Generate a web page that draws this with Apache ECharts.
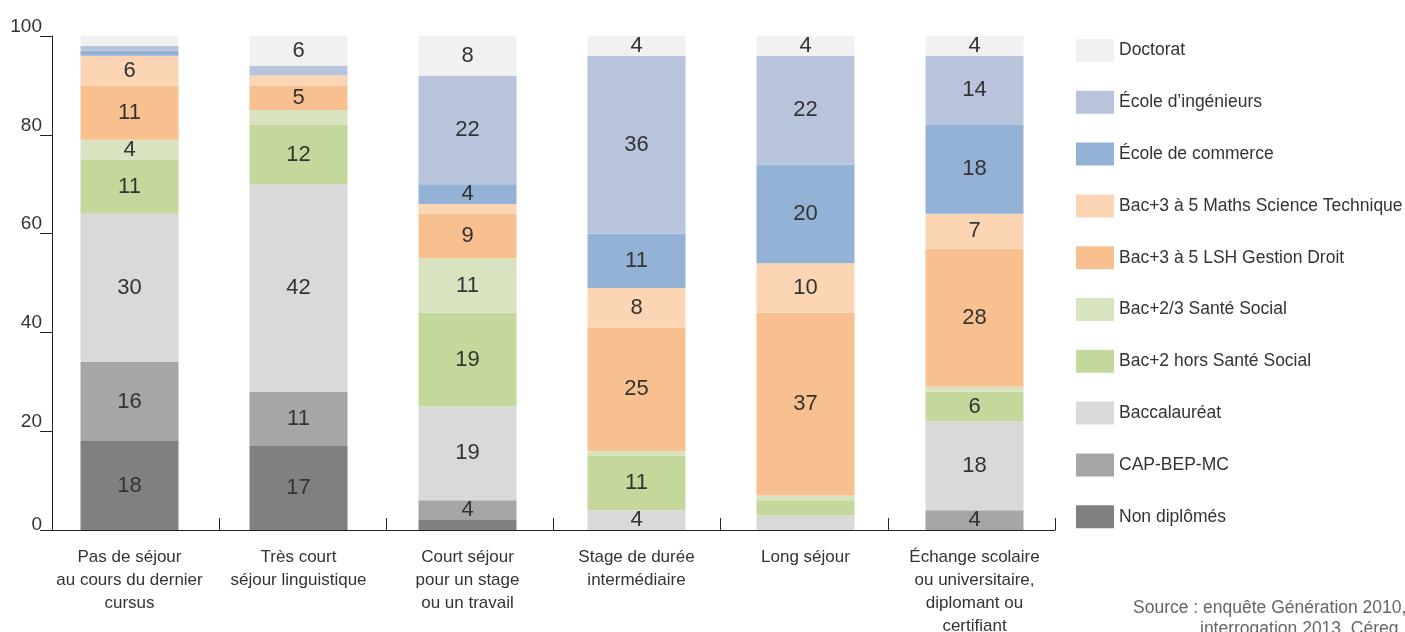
<!DOCTYPE html>
<html>
<head>
<meta charset="utf-8">
<script src="https://cdn.jsdelivr.net/npm/echarts@6/dist/echarts.min.js"></script>
<style>
html,body{margin:0;padding:0;background:#fff;}
#c{width:1405px;height:632px;}
</style>
</head>
<body>
<div id="c"></div>
<script>
const categories = [
  "Pas de séjour\nau cours du dernier\ncursus",
  "Très court\nséjour linguistique",
  "Court séjour\npour un stage\nou un travail",
  "Stage de durée\nintermédiaire",
  "Long séjour",
  "Échange scolaire\nou universitaire,\ndiplomant ou\ncertifiant"
];
const yTicks = [0, 20, 40, 60, 80, 100];

const nonDiplomes   = [18, 17, 2, 0, 0, 0];
const capBepMc      = [16, 11, 4, 0, 0, 4];
const baccalaureat  = [30, 42, 19, 4, 3, 18];
const bac2Hors      = [11, 12, 19, 11, 3, 6];
const bac23Sante    = [4, 3, 11, 1, 1, 1];
const bac35Lsh      = [11, 5, 9, 25, 37, 28];
const bac35Maths    = [6, 2, 2, 8, 10, 7];
const ecoleCommerce = [1, 0, 4, 11, 20, 18];
const ecoleIng      = [1, 2, 22, 36, 22, 14];
const doctorat      = [2, 6, 8, 4, 4, 4];

const seriesDefs = [
  ["Non diplômés", nonDiplomes, "#808080"],
  ["CAP-BEP-MC", capBepMc, "#a6a6a6"],
  ["Baccalauréat", baccalaureat, "#d9d9d9"],
  ["Bac+2 hors Santé Social", bac2Hors, "#c5d89c"],
  ["Bac+2/3 Santé Social", bac23Sante, "#d8e4bf"],
  ["Bac+3 à 5 LSH Gestion Droit", bac35Lsh, "#f9c08f"],
  ["Bac+3 à 5 Maths Science Technique", bac35Maths, "#fcd5b4"],
  ["École de commerce", ecoleCommerce, "#94b1d6"],
  ["École d’ingénieurs", ecoleIng, "#b8c4dc"],
  ["Doctorat", doctorat, "#f1f1f1"]
];

const FONT = "'Liberation Sans', Arial, sans-serif";

const chart = echarts.init(document.getElementById('c'));
chart.setOption({
  animation: false,
  textStyle: { fontFamily: FONT },
  grid: [
    { left: 45, right: 346, top: 36, bottom: 102, containLabel: false, outerBoundsMode: 'none' },
    { left: 52, right: 350, top: 36, bottom: 102, containLabel: false, outerBoundsMode: 'none' }
  ],
  legend: {
    orient: 'vertical',
    left: 1071,
    top: 34,
    itemWidth: 38,
    itemHeight: 23,
    itemGap: 28.8,
    icon: 'rect',
    data: seriesDefs.map(s => s[0]).reverse(),
    textStyle: { fontSize: 17.5, color: '#333', fontFamily: FONT },
    selectedMode: false
  },
  xAxis: [
    {
      type: 'category',
      gridIndex: 0,
      data: categories,
      axisLine: { show: false },
      axisTick: { show: false },
      axisLabel: { color: '#333', fontSize: 17, lineHeight: 23, margin: 16, interval: 0, fontFamily: FONT }
    },
    {
      type: 'category',
      gridIndex: 1,
      data: categories,
      axisLine: { lineStyle: { color: '#222', width: 1 } },
      axisTick: { show: true, inside: true, length: 12, lineStyle: { color: '#222' } },
      axisLabel: { show: false }
    }
  ],
  yAxis: [
    {
      type: 'value',
      gridIndex: 0,
      min: 0, max: 100, interval: 20,
      show: false
    },
    {
      type: 'value',
      gridIndex: 1,
      min: 0, max: 100, interval: 20,
      splitLine: { show: false },
      axisLine: { show: true, lineStyle: { color: '#222', width: 1 } },
      axisTick: { show: true, length: 12, lineStyle: { color: '#222' } },
      axisLabel: {
        color: '#333', fontSize: 19, margin: 10, verticalAlign: 'bottom', fontFamily: FONT,
        formatter: v => yTicks.includes(v) ? (v === 0 ? '{z|0}' : String(v)) : '',
        rich: { z: { fontSize: 19, lineHeight: 10, color: '#333', fontFamily: FONT } }
      }
    }
  ],
  series: seriesDefs.map(([name, data, color]) => ({
    name: name,
    type: 'bar',
    stack: 'total',
    xAxisIndex: 0,
    yAxisIndex: 0,
    barWidth: 98,
    data: data,
    itemStyle: { color: color },
    label: {
      show: true,
      position: 'inside',
      color: '#333',
      fontSize: 22,
      fontFamily: FONT,
      formatter: p => (p.value >= 4 ? String(p.value) : '')
    }
  })),
  graphic: [
    { type: 'text', left: 1133, top: 599, style: { text: 'Source : enquête Génération 2010,', fill: '#666', font: "17.5px 'Liberation Sans', Arial, sans-serif" } },
    { type: 'text', left: 1200, top: 620, style: { text: 'interrogation 2013, Céreq', fill: '#666', font: "17.5px 'Liberation Sans', Arial, sans-serif" } }
  ]
});
</script>
</body>
</html>
